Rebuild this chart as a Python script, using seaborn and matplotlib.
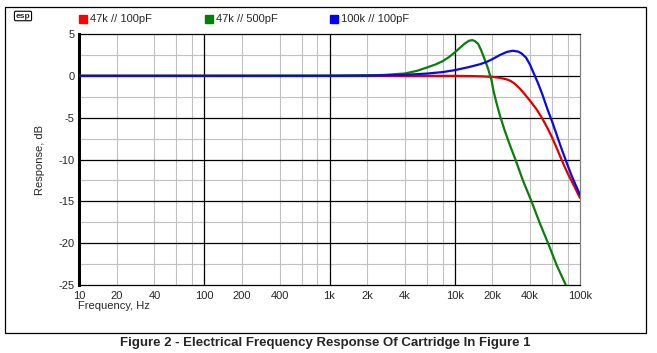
import matplotlib
matplotlib.use("Agg")
import matplotlib.pyplot as plt
import matplotlib.patches as patches
import seaborn as sns
import numpy as np
import pandas as pd

# frequency response (Hz, dB)
red_freq = [10, 100, 1000, 10000, 15000, 20000, 23000, 26000, 28000, 30000, 33000, 36000,
            40000, 45000, 50000, 55000, 60000, 65000, 70000, 75000, 80000, 90000, 100000]
red_db = [0, 0, 0, 0, -0.04, -0.12, -0.25, -0.42, -0.62, -0.92, -1.5, -2.15,
          -3.0, -4.0, -5.1, -6.25, -7.4, -8.6, -9.75, -10.8, -11.7, -13.2, -14.6]

green_freq = [10, 100, 1000, 2000, 2700, 3000, 4000, 5000, 6000, 7000, 8000, 9000, 10000,
              11000, 12000, 13000, 13800, 14500, 15400, 16200, 16900, 17700, 18500, 19700,
              20400, 21500, 23000, 25000, 27600, 30500, 35000, 41000, 48000, 55600, 65000,
              77000, 80000]
green_db = [0, 0, 0.02, 0.06, 0.1, 0.15, 0.28, 0.6, 1.0, 1.35, 1.75, 2.25, 2.8,
            3.35, 3.85, 4.2, 4.27, 4.15, 3.8, 3.1, 2.4, 1.6, 0.8, -0.6,
            -1.8, -3.2, -4.8, -6.5, -8.3, -10.0, -12.5, -15.0, -17.7, -20.0, -22.6,
            -25.0, -25.6]

blue_freq = [10, 100, 1000, 2000, 4000, 6000, 8000, 10000, 13000, 16000, 18000, 20000,
             23000, 26000, 29000, 32000, 34000, 37000, 40000, 43000, 46000, 50000, 55000,
             60000, 65000, 70000, 77000, 85000, 92000, 100000]
blue_db = [0, 0, 0, 0.03, 0.12, 0.27, 0.45, 0.68, 1.05, 1.4, 1.67, 2.0,
           2.5, 2.85, 3.0, 2.9, 2.7, 2.2, 1.3, 0.2, -0.8, -2.2, -4.0,
           -5.5, -7.0, -8.4, -10.1, -11.8, -13.0, -14.2]

series_names = ["47k // 100pF", "47k // 500pF", "100k // 100pF"]
line_colors = ["#e00000", "#0b7d0b", "#0a0ae0"]
legend_colors = ["#ff0000", "#008000", "#0000ff"]

x_ticks = [10, 20, 40, 100, 200, 400, 1000, 2000, 4000, 10000, 20000, 40000, 100000]
x_tick_labels = ["10", "20", "40", "100", "200", "400", "1k", "2k", "4k", "10k", "20k", "40k", "100k"]
y_ticks = [5, 0, -5, -10, -15, -20, -25]

sns.set_style("white")
plt.rcParams["font.family"] = ["Liberation Sans", "DejaVu Sans"]
plt.rcParams["axes.unicode_minus"] = False

fig = plt.figure(figsize=(6.57, 3.53), dpi=100)
ax = fig.add_axes([79 / 657, 1 - 285 / 353, 501 / 657, 251 / 353])

frames = [
    pd.DataFrame({"freq": red_freq, "db": red_db}),
    pd.DataFrame({"freq": green_freq, "db": green_db}),
    pd.DataFrame({"freq": blue_freq, "db": blue_db}),
]
for df, c in zip(frames, line_colors):
    sns.lineplot(data=df, x="freq", y="db", color=c, linewidth=1.6, ax=ax, zorder=3)

ax.set_xscale("log")
ax.set_xlim(10, 100000)
ax.set_ylim(-25, 5)
ax.grid(False)

# grid: gray minor lines, black major lines
minor_x = [m * 10 ** d for d in range(1, 5) for m in (2, 4, 6, 8)]
for xv in minor_x:
    ax.axvline(xv, color="#c0c0c0", lw=0.8, zorder=1)
for xv in [100, 1000, 10000]:
    ax.axvline(xv, color="black", lw=0.9, zorder=2)
for yv in [2.5, -2.5, -7.5, -12.5, -17.5, -22.5]:
    ax.axhline(yv, color="#c0c0c0", lw=0.8, zorder=1)
for yv in [0, -5, -10, -15, -20]:
    ax.axhline(yv, color="black", lw=0.9, zorder=2)

ax.set_xticks(x_ticks)
ax.set_xticklabels(x_tick_labels)
ax.xaxis.set_minor_locator(matplotlib.ticker.NullLocator())
ax.set_yticks(y_ticks)
ax.tick_params(axis="y", length=0, labelsize=8, pad=3)
ax.tick_params(axis="x", length=0, labelsize=8, pad=4)
ax.set_xlabel("")
ax.set_ylabel("")

for side in ["top", "right", "bottom"]:
    ax.spines[side].set_visible(True)
    ax.spines[side].set_color("black")
    ax.spines[side].set_linewidth(0.9)
ax.spines["right"].set_color("#808080")
ax.spines["left"].set_color("black")
ax.spines["left"].set_linewidth(2.2)

fig.text(78 / 657, 1 - 306 / 353, "Frequency, Hz", fontsize=8, ha="left", va="center")
fig.text(40 / 657, 1 - 160 / 353, "Response, dB", fontsize=8, rotation=90, ha="center", va="center")

# legend across the top
leg_x = [79, 205, 330]
for xp, name, c in zip(leg_x, series_names, legend_colors):
    fig.patches.append(patches.Rectangle((xp / 657, 1 - 23 / 353), 8 / 657, 8 / 353,
                                         transform=fig.transFigure, color=c, figure=fig))
    fig.text((xp + 11) / 657, 1 - 19 / 353, name, fontsize=8, ha="left", va="center")

# small logo
fig.text(23 / 657, 1 - 16 / 353, "esp", fontsize=6, fontweight="bold", ha="center", va="center",
         bbox=dict(boxstyle="round,pad=0.15", fc="white", ec="black", lw=0.8))

# outer frame
fig.patches.append(patches.Rectangle((5 / 657, 1 - 333 / 353), 641 / 657, 326 / 353,
                                     transform=fig.transFigure, fill=False, ec="black", lw=0.9,
                                     figure=fig))

fig.text(325 / 657, 1 - 343 / 353, "Figure 2 - Electrical Frequency Response Of Cartridge In Figure 1",
         fontsize=9.5, fontweight="bold", ha="center", va="center")

fig.savefig("out.png", dpi=100)
plt.close(fig)
